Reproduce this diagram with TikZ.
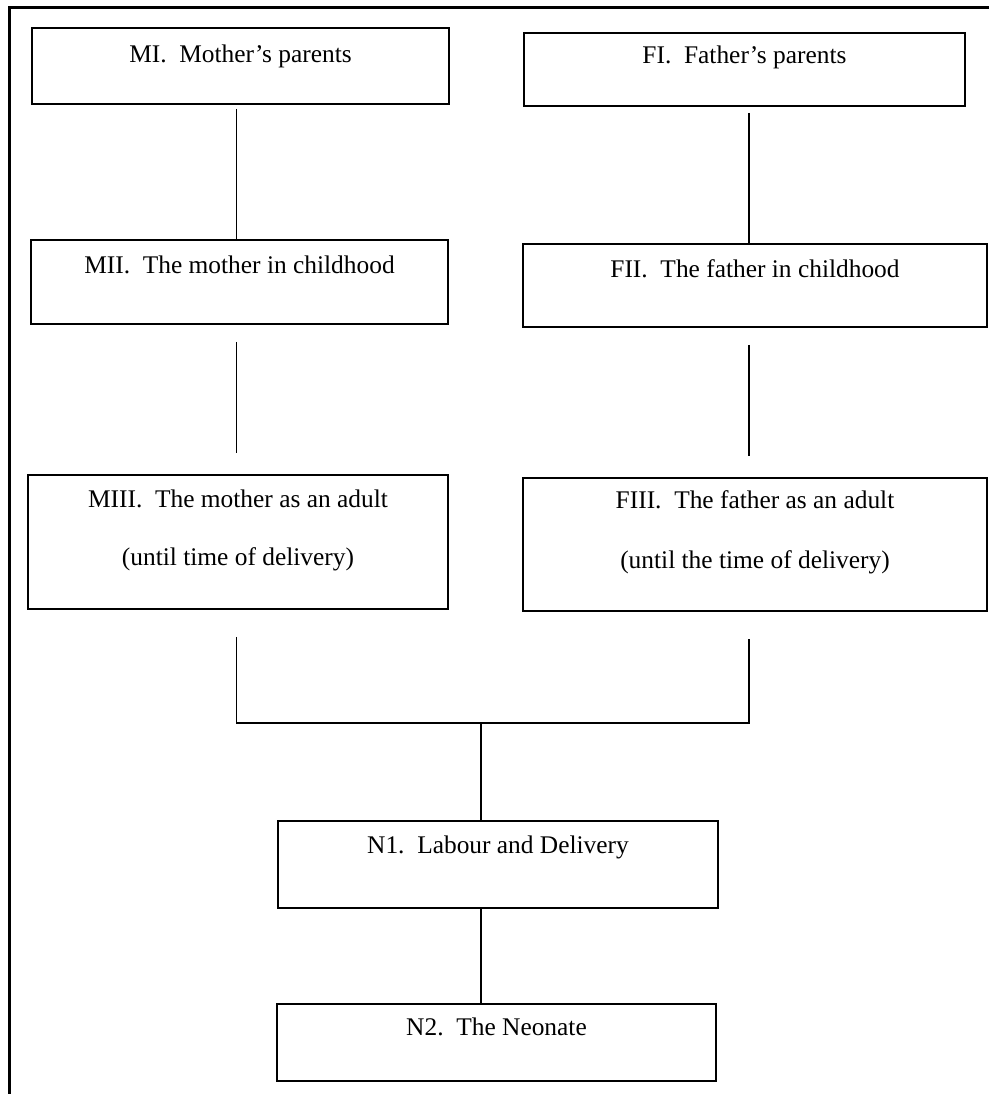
\documentclass[tikz,border=0pt]{standalone}
\usepackage{fontspec}
\setmainfont{Liberation Serif}

\begin{document}
\begin{tikzpicture}[x=1pt, y=-1pt,
    box/.style={draw, line width=1.8pt, anchor=north, inner ysep=0pt,
      font=\fontsize{25.4}{30}\selectfont},
    link/.style={line width=1.4pt}]
  \useasboundingbox (0, 0) rectangle (991, 1094);
  \draw[line width=3pt] (9, 1100) -- (9, 8) -- (989, 8);

  \coordinate (mcol) at (236.5, 0);
  \coordinate (fcol) at (749, 0);

  \node[box, minimum width=417pt, text height=35pt, text depth=41pt] (MI) at (240.5, 27) {MI.\enspace Mother's parents};
  \node[box, minimum width=441pt, text height=31pt, text depth=42pt] (FI) at (744.5, 32) {FI.\enspace Father's parents};

  \node[box, minimum width=417pt, text height=34pt, text depth=50pt] (MII) at (239.5, 239) {MII.\enspace The mother in childhood};
  \node[box, minimum width=464pt, text height=34pt, text depth=49pt] (FII) at (755, 243) {FII.\enspace The father in childhood};

  \draw[link] ([yshift=-4pt]MI.south -| mcol) -- (MII.north -| mcol);
  \draw[link] ([yshift=-6pt]FI.south -| fcol) -- (FII.north -| fcol);

  \node[box, minimum width=420pt, text height=33pt, text depth=101pt] (MIII) at (238, 474)
    {\begin{tabular}[t]{@{}c@{}}MIII.\enspace The mother as an adult\\[28pt] (until time of delivery)\end{tabular}};
  \node[box, minimum width=464pt, text height=31pt, text depth=102pt] (FIII) at (755, 477)
    {\begin{tabular}[t]{@{}c@{}}FIII.\enspace The father as an adult\\[30pt] (until the time of delivery)\end{tabular}};

  \draw[link] ([yshift=-17pt]MII.south -| mcol) -- ([yshift=21pt]MIII.north -| mcol);
  \draw[link] ([yshift=-17pt]FII.south -| fcol) -- ([yshift=21pt]FIII.north -| fcol);

  \coordinate (join) at (481, 723);
  \node[box, minimum width=440pt, text height=33pt, text depth=54pt] (N1) at (498, 820) {N1.\enspace Labour and Delivery};
  \node[box, minimum width=439pt, text height=32pt, text depth=45pt] (N2) at (496.5, 1003) {N2.\enspace The Neonate};

  \draw[link] ([yshift=-27pt]MIII.south -| mcol) |- (join) -| ([yshift=-27pt]FIII.south -| fcol);
  \draw[link] (join) -- (N1.north -| join);
  \draw[link] (N1.south -| join) -- (N2.north -| join);
\end{tikzpicture}
\end{document}
